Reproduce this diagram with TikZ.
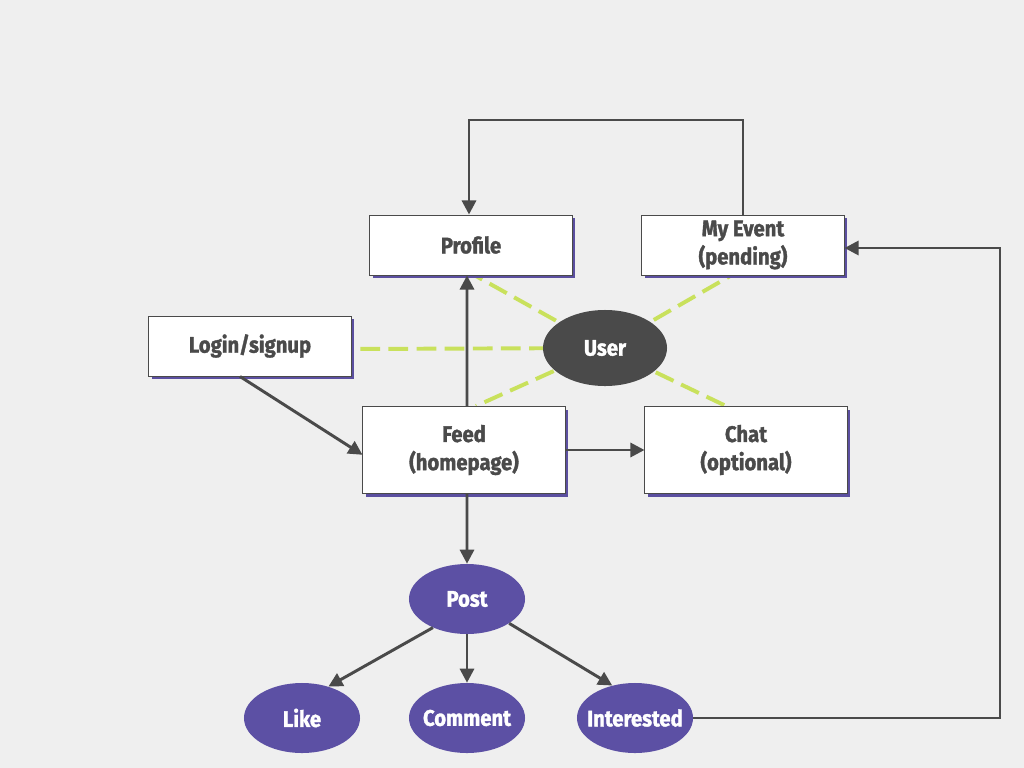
\documentclass[tikz,border=0pt]{standalone}
\usepackage{fontspec}
\setmainfont{Fira Sans}[UprightFont=* Bold, FakeStretch=0.9, FakeBold=1.5]
\usepackage{xcolor}
\usetikzlibrary{arrows.meta,shadows,shapes.geometric,backgrounds}

\definecolor{bggray}{HTML}{EFEFEF}
\definecolor{darkgray}{HTML}{4A4A4A}
\definecolor{shadowpurple}{HTML}{5B4FA0}
\definecolor{postpurple}{HTML}{5C50A4}
\definecolor{dashgreen}{HTML}{C9E15C}

\begin{document}
\begin{tikzpicture}[x=0.025cm, y=-0.025cm,
    screen/.style={rectangle, draw=darkgray, line width=0.7pt, fill=white,
        minimum width=5.05cm, minimum height=1.5cm, align=center,
        text=darkgray, font=\fontsize{16}{20}\selectfont,
        drop shadow={shadow xshift=0.08cm, shadow yshift=-0.08cm, fill=shadowpurple, opacity=1}},
    action/.style={ellipse, fill=postpurple, text=white,
        minimum width=2.9cm, minimum height=1.75cm, inner xsep=-0.17cm, inner ysep=0pt,
        font=\fontsize{16}{19}\selectfont},
    flow/.style={draw=darkgray, line width=2.1pt, -{Triangle[length=10pt,width=10pt]}},
    link/.style={draw=dashgreen, line width=2.8pt, dash pattern=on 14pt off 6pt}]
    \begin{scope}[on background layer]
        \useasboundingbox[fill=bggray] (0,0) rectangle (1024,768);
    \end{scope}

    % Screens
    \node[screen] (profile) at (471,245) {Profile};
    \node[screen] (event) at (743,245) {My Event\\(pending)};
    \node[screen] (login) at (250,346) {Login/signup};
    \node[screen, minimum height=2.175cm] (feed) at (464,450) {Feed\\(homepage)};
    \node[screen, minimum height=2.175cm] (chat) at (746,450) {Chat\\(optional)};

    % User and post actions
    \node[ellipse, fill=darkgray, text=white, minimum width=3.1cm, minimum height=1.9cm,
        font=\fontsize{16}{19}\selectfont] (user) at (605,348) {User};
    \node[action] (post) at (467,599) {Post};
    \node[action] (like) at (302,718) {Like};
    \node[action] (comment) at (467,718) {Comment};
    \node[action] (interested) at (635,718) {Interested};

    % Dashed links to the user
    \begin{scope}[on background layer]
        \draw[link] (user.center) -- ([xshift=0.1cm]profile.south);
        \draw[link] (user.center) -- ([xshift=-0.3cm]event.south);
        \draw[link] (user.center) -- ([yshift=-0.075cm]login.east);
        \draw[link] (user.center) -- ([xshift=0.3cm]feed.north);
        \draw[link] (user.center) -- ([xshift=-0.5cm]chat.north);
    \end{scope}

    % Arrows
    \draw[flow] (event.north) -- (743,120) -| ([xshift=-0.05cm]profile.north);
    \draw[flow] (interested.east) -- (1000,718) |- ([yshift=-0.075cm]event.east);
    \draw[flow] ([xshift=-0.25cm]login.south) -- ([yshift=-0.12cm]feed.west);
    \draw[flow] ([xshift=0.075cm]feed.north) -- ([xshift=-0.1cm]profile.south);
    \draw[flow] (feed.east) -- (chat.west);
    \draw[flow] ([xshift=0.075cm]feed.south) -- (post.north);
    \draw[flow] (post.-140) -- (like.50);
    \draw[flow] (post.south) -- (comment.north);
    \draw[flow] (post.-30) -- (interested.125);
\end{tikzpicture}
\end{document}
